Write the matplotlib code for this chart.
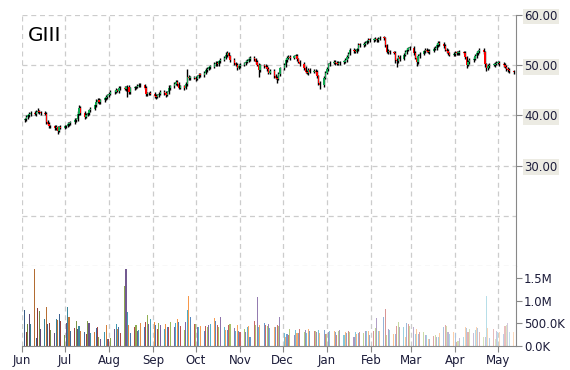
import numpy as np
import pandas as pd
import matplotlib
matplotlib.use('Agg')
import matplotlib.pyplot as plt
import matplotlib.dates as mdates
from matplotlib.colors import to_rgb

ticker = 'GIII'
start_day = '2013-06-03'

# daily closes, one row per week (Mon..Fri)
close = [
    39.2, 39.6, 40.0, 40.2, 40.5,
    40.3, 40.7, 40.9, 40.6, 40.4,
    40.3, 38.6, 38.3, 37.9, 37.8,
    37.4, 37.6, 36.9, 37.6, 37.5,
    37.8, 37.9, 38.2, 38.4, 38.6,
    39.0, 39.2, 40.3, 41.5, 40.5,
    39.7, 40.1, 40.5, 41.0, 41.3,
    42.0, 42.7, 43.1, 42.6, 43.0,
    43.4, 43.7, 44.0, 44.3, 44.6,
    44.7, 45.1, 44.9, 45.4, 45.5,
    45.3, 45.6, 45.7, 44.6, 45.4,
    45.6, 45.7, 45.9, 46.1, 46.0,
    45.5, 44.2, 44.4, 44.5, 44.3,
    43.9, 43.7, 44.0, 44.3, 44.7,
    44.4, 44.1, 44.6, 45.5, 45.8,
    46.3, 46.7, 46.2, 45.5, 45.8,
    45.5, 46.2, 47.7, 47.4, 47.5,
    47.5, 47.3, 47.8, 48.1, 48.0,
    48.5, 49.1, 49.3, 49.6, 49.7,
    50.3, 50.5, 50.2, 50.8, 51.1,
    51.5, 52.1, 52.4, 51.8, 51.0,
    50.4, 50.1, 49.5, 49.8, 50.1,
    50.4, 50.7, 50.9, 51.3, 51.5,
    51.2, 50.7, 50.1, 49.0, 50.0,
    49.8, 49.7, 49.2, 48.5, 48.9,
    47.9, 47.5, 47.3, 48.2, 49.4,
    50.1, 51.0, 51.5, 51.7, 51.5,
    51.8, 51.9, 51.2, 50.7, 50.2,
    49.5, 48.7, 48.5, 49.1, 48.7,
    48.9, 48.7, 47.8, 46.5, 46.0,
    47.5, 48.5, 49.2, 50.2, 50.5,
    50.7, 50.5, 50.3, 50.5, 50.6,
    50.7, 51.0, 51.7, 52.3, 53.1,
    52.8, 52.7, 53.2, 54.1, 54.0,
    54.3, 54.5, 54.8, 55.1, 55.0,
    55.1, 55.2, 55.0, 55.3, 55.5,
    55.4, 54.0, 52.7, 52.8, 52.6,
    52.5, 51.1, 50.8, 51.7, 51.3,
    52.1, 52.6, 53.1, 53.4, 53.5,
    52.4, 51.5, 50.6, 51.8, 52.3,
    52.8, 53.1, 52.9, 52.7, 52.9,
    53.3, 53.5, 54.0, 54.5, 54.2,
    53.9, 53.1, 52.8, 52.4, 52.1,
    52.3, 52.5, 52.4, 52.5, 52.6,
    52.5, 51.6, 50.1, 50.6, 51.1,
    51.3, 51.8, 52.5, 52.8, 53.1,
    52.6, 50.2, 49.5, 49.8, 50.1,
    50.1, 50.3, 50.5, 50.5, 50.3,
    50.0, 49.7, 49.3, 49.1, 48.8,
    48.6,
]
first_open = 39.0

# wick extension above the body / below the body
upper = [
    0.3, 0.4, 0.2, 0.5, 0.3,
    0.4, 0.3, 0.5, 0.2, 0.3,
    0.4, 0.3, 0.5, 0.3, 0.2,
    0.3, 0.4, 0.3, 0.2, 0.4,
    0.3, 0.2, 0.4, 0.3, 0.3,
    0.4, 0.3, 0.6, 0.6, 0.3,
    0.3, 0.4, 0.2, 0.3, 0.4,
    0.3, 0.5, 0.3, 0.4, 0.3,
    0.2, 0.4, 0.3, 0.3, 0.4,
    0.3, 0.4, 0.2, 0.5, 0.3,
    0.4, 0.3, 0.4, 0.3, 0.3,
    0.3, 0.2, 0.4, 0.3, 0.4,
    0.3, 0.4, 0.3, 0.2, 0.3,
    0.4, 0.3, 0.3, 0.4, 0.3,
    0.3, 0.4, 0.3, 0.5, 0.3,
    0.4, 0.3, 0.3, 0.4, 0.3,
    0.3, 0.5, 1.6, 0.3, 0.4,
    0.3, 0.4, 0.3, 0.4, 0.3,
    0.3, 0.4, 0.3, 0.3, 0.4,
    0.4, 0.3, 0.4, 0.3, 0.3,
    0.3, 0.5, 0.4, 0.3, 0.3,
    0.4, 0.3, 0.3, 0.4, 0.3,
    0.3, 0.4, 0.3, 0.3, 0.4,
    0.4, 0.3, 0.4, 0.3, 0.3,
    0.3, 0.4, 0.3, 0.4, 0.3,
    0.4, 0.3, 0.3, 0.4, 0.3,
    0.3, 0.4, 0.3, 0.4, 0.3,
    0.3, 0.4, 0.3, 0.3, 0.4,
    0.4, 0.3, 0.3, 0.4, 0.3,
    0.3, 0.4, 0.3, 0.3, 0.4,
    0.4, 0.3, 0.4, 0.3, 0.3,
    0.3, 0.4, 0.3, 0.4, 0.3,
    0.3, 0.4, 0.3, 0.4, 0.3,
    0.3, 0.4, 0.3, 0.4, 0.4,
    0.3, 0.4, 0.3, 0.3, 0.4,
    0.3, 0.4, 0.3, 0.3, 0.4,
    0.4, 0.3, 0.3, 0.4, 0.3,
    0.3, 0.4, 0.3, 0.4, 0.3,
    0.3, 0.4, 0.3, 0.3, 0.4,
    0.3, 0.4, 0.3, 0.4, 0.3,
    0.3, 0.4, 0.3, 0.3, 0.4,
    0.3, 0.3, 0.4, 0.3, 0.4,
    0.4, 0.3, 0.3, 0.4, 0.3,
    0.3, 0.4, 0.3, 0.3, 0.4,
    0.3, 0.4, 0.3, 0.4, 0.3,
    0.3, 0.4, 0.3, 0.3, 0.4,
    0.4, 0.3, 0.3, 0.4, 0.3,
    0.3, 0.4, 0.3, 0.4, 0.3,
    0.3, 0.4, 0.3, 0.3, 0.4,
    0.3,
]
lower = [
    0.3, 0.3, 0.4, 0.3, 0.3,
    0.3, 0.4, 0.3, 0.3, 0.4,
    0.3, 0.4, 0.3, 0.4, 0.3,
    0.4, 0.3, 0.6, 0.3, 0.3,
    0.3, 0.4, 0.3, 0.3, 0.4,
    0.3, 0.4, 0.3, 0.3, 0.5,
    0.4, 0.3, 0.3, 0.4, 0.3,
    0.3, 0.4, 0.3, 0.3, 0.4,
    0.3, 0.3, 0.4, 0.3, 0.3,
    0.4, 0.3, 0.3, 0.4, 0.3,
    0.3, 0.4, 1.9, 0.3, 0.3,
    0.3, 0.4, 0.3, 0.3, 0.4,
    0.3, 0.4, 0.3, 0.4, 0.3,
    0.5, 0.4, 0.3, 0.3, 0.3,
    0.3, 0.4, 0.3, 0.3, 0.4,
    0.3, 0.3, 0.4, 0.3, 0.3,
    0.4, 0.3, 0.3, 0.4, 0.3,
    0.3, 0.4, 0.3, 0.3, 0.4,
    0.3, 0.3, 0.4, 0.3, 0.3,
    0.3, 0.4, 0.3, 0.3, 0.4,
    0.3, 0.3, 0.4, 0.3, 0.3,
    0.4, 0.3, 0.4, 0.3, 0.3,
    0.3, 0.4, 0.3, 0.3, 0.4,
    0.3, 0.4, 0.3, 1.3, 0.3,
    0.3, 0.3, 0.4, 0.3, 0.3,
    0.4, 0.3, 0.9, 0.3, 0.3,
    0.3, 0.4, 0.3, 0.3, 0.4,
    0.3, 0.3, 0.4, 0.3, 0.3,
    0.4, 0.3, 0.3, 0.4, 0.3,
    0.3, 0.4, 0.3, 0.4, 0.8,
    0.4, 0.3, 0.3, 0.4, 0.3,
    0.3, 0.4, 0.3, 0.3, 0.4,
    0.3, 0.3, 0.4, 0.3, 0.3,
    0.4, 0.3, 0.3, 0.4, 0.3,
    0.3, 0.4, 0.3, 0.3, 0.4,
    0.3, 0.3, 0.4, 0.3, 0.3,
    0.4, 0.3, 0.3, 0.4, 0.3,
    0.3, 0.6, 1.2, 0.3, 0.4,
    0.3, 0.3, 0.4, 0.3, 0.3,
    0.4, 0.3, 0.8, 0.3, 0.3,
    0.3, 0.4, 0.3, 0.3, 0.4,
    0.3, 0.3, 0.4, 0.3, 0.3,
    0.4, 0.3, 0.3, 0.4, 0.3,
    0.3, 0.4, 0.3, 0.3, 0.4,
    0.3, 0.4, 0.6, 0.3, 0.3,
    0.4, 0.3, 0.3, 0.4, 0.3,
    0.3, 0.5, 0.7, 0.4, 0.3,
    0.3, 0.4, 0.3, 0.3, 0.4,
    0.3, 0.3, 0.4, 0.5, 0.3,
    0.4,
]

# daily volume in thousands of shares
volume_k = [
    790, 300, 490, 710, 490,
    1700, 180, 840, 770, 370,
    600, 860, 490, 510, 350,
    280, 600, 570, 710, 550,
    240, 510, 860, 640, 330,
    400, 560, 380, 450, 330,
    320, 260, 560, 500, 290,
    300, 390, 410, 200, 150,
    300, 470, 150, 150, 180,
    380, 490, 380, 420, 290,
    1320, 1700, 750, 460, 280,
    430, 470, 340, 350, 510,
    420, 530, 690, 480, 600,
    540, 460, 380, 500, 470,
    380, 490, 420, 410, 540,
    420, 510, 600, 520, 450,
    360, 530, 800, 1100, 640,
    490, 490, 420, 430, 440,
    330, 450, 420, 460, 480,
    620, 560, 470, 430, 640,
    430, 360, 360, 470, 490,
    390, 340, 470, 330, 320,
    380, 300, 410, 440, 200,
    550, 470, 1080, 420, 460,
    500, 460, 440, 480, 400,
    430, 410, 460, 440, 640,
    280, 200, 270, 250, 370,
    240, 350, 290, 290, 380,
    300, 350, 280, 370, 330,
    330, 340, 300, 360, 280,
    350, 260, 270, 320, 330,
    330, 300, 250, 330, 350,
    250, 300, 280, 340, 310,
    200, 310, 270, 290, 310,
    280, 330, 330, 340, 250,
    330, 400, 630, 330, 340,
    650, 820, 240, 370, 350,
    270, 270, 440, 530, 410,
    420, 190, 500, 490, 450,
    430, 270, 380, 270, 300,
    300, 250, 240, 160, 150,
    230, 250, 190, 200, 290,
    420, 470, 450, 300, 260,
    300, 280, 90, 120, 170,
    200, 420, 390, 300, 380,
    280, 350, 420, 400, 310,
    190, 200, 1110, 390, 170,
    380, 160, 340, 320, 300,
    270, 450, 460, 500, 300,
    300,
]

price_ticks = [30, 40, 50, 60]
price_grid = [10, 20, 30, 40, 50, 60]
vol_ticks = [0, 500000, 1000000, 1500000]
vol_labels = ['0.0K', '500.0K', '1.0M', '1.5M']
office = ['#4F81BD', '#C0504D', '#9BBB59', '#8064A2', '#4BACC6', '#F79646']

df = pd.DataFrame({'close': close, 'upper': upper, 'lower': lower,
                   'volume': np.array(volume_k) * 1000})
df['date'] = pd.bdate_range(start=start_day, periods=len(df))
df['open'] = df['close'].shift(1).fillna(first_open)
df['high'] = df[['open', 'close']].max(axis=1) + df['upper']
df['low'] = df[['open', 'close']].min(axis=1) - df['lower']
df['up'] = df['close'] >= df['open']

fig = plt.figure(figsize=(5.7, 3.7), dpi=100)
ax = fig.add_axes([22/570, 1-266/370, (515.7-22)/570, 251/370])
axv = fig.add_axes([22/570, 1-346/370, (515.7-22)/570, 80/370], sharex=ax)

grid_kw = dict(color='#cccccc', linestyle=(0, (4, 3)), linewidth=0.9)
txt_color = '#1c1c3a'

# candles
ax.vlines(df['date'], df['low'], df['high'], color='black', linewidth=1.0, zorder=3)
body_col = np.where(df['up'], '#10a650', '#ff0000')
ax.bar(df['date'], (df['close'] - df['open']).abs().clip(lower=0.15),
       bottom=df[['open', 'close']].min(axis=1), width=0.9,
       color=body_col, linewidth=0, zorder=4)

ax.set_ylim(10, 60)
for g in price_grid:
    ax.axhline(g, zorder=0, **grid_kw)
ax.yaxis.tick_right()
ax.set_yticks(price_ticks)
ax.set_yticklabels(['%.2f' % v for v in price_ticks])
ax.tick_params(axis='y', colors='#888888', labelcolor=txt_color, length=4,
               labelsize=8.5, pad=2)
for lbl in ax.get_yticklabels():
    lbl.set_bbox(dict(facecolor='#ecebe3', edgecolor='none', pad=1))
ax.tick_params(axis='x', length=0, labelbottom=False)
for s in ['top', 'left', 'bottom']:
    ax.spines[s].set_visible(False)
ax.spines['right'].set_color('#888888')
ax.text(0.012, 0.955, ticker, transform=ax.transAxes, fontsize=14.5,
        va='top', ha='left', color='black')

# volume bars, colours cycle and fade towards the right
n = len(df)
vcols = []
for i in range(n):
    base = np.array(to_rgb(office[i % len(office)]))
    t = i / (n - 1)
    f = -0.3 + 0.95 * t
    if f < 0:
        c = base * (1 + f)
    else:
        c = base + (1 - base) * f
    vcols.append(tuple(c))
axv.bar(df['date'], df['volume'], width=0.75, color=vcols, linewidth=0)
axv.set_ylim(0, 1.77e6)
axv.yaxis.tick_right()
axv.set_yticks(vol_ticks)
axv.set_yticklabels(vol_labels)
axv.tick_params(axis='y', colors='#888888', labelcolor=txt_color, length=4,
                labelsize=8.5, pad=2)
axv.tick_params(axis='x', colors='#888888', labelcolor=txt_color, length=4,
                labelsize=8.5, pad=2)
for s in ['top', 'left']:
    axv.spines[s].set_visible(False)
axv.spines['right'].set_color('#888888')
axv.spines['bottom'].set_color('#888888')

axv.xaxis.set_major_locator(mdates.MonthLocator())
axv.xaxis.set_major_formatter(mdates.DateFormatter('%b'))
axv.set_xlim(pd.Timestamp('2013-06-01'), pd.Timestamp('2014-05-13 12:00'))
ax.grid(axis='x', **grid_kw)
axv.grid(axis='x', **grid_kw)
ax.set_axisbelow(True)
axv.set_axisbelow(True)

fig.savefig('out.png', dpi=100)
